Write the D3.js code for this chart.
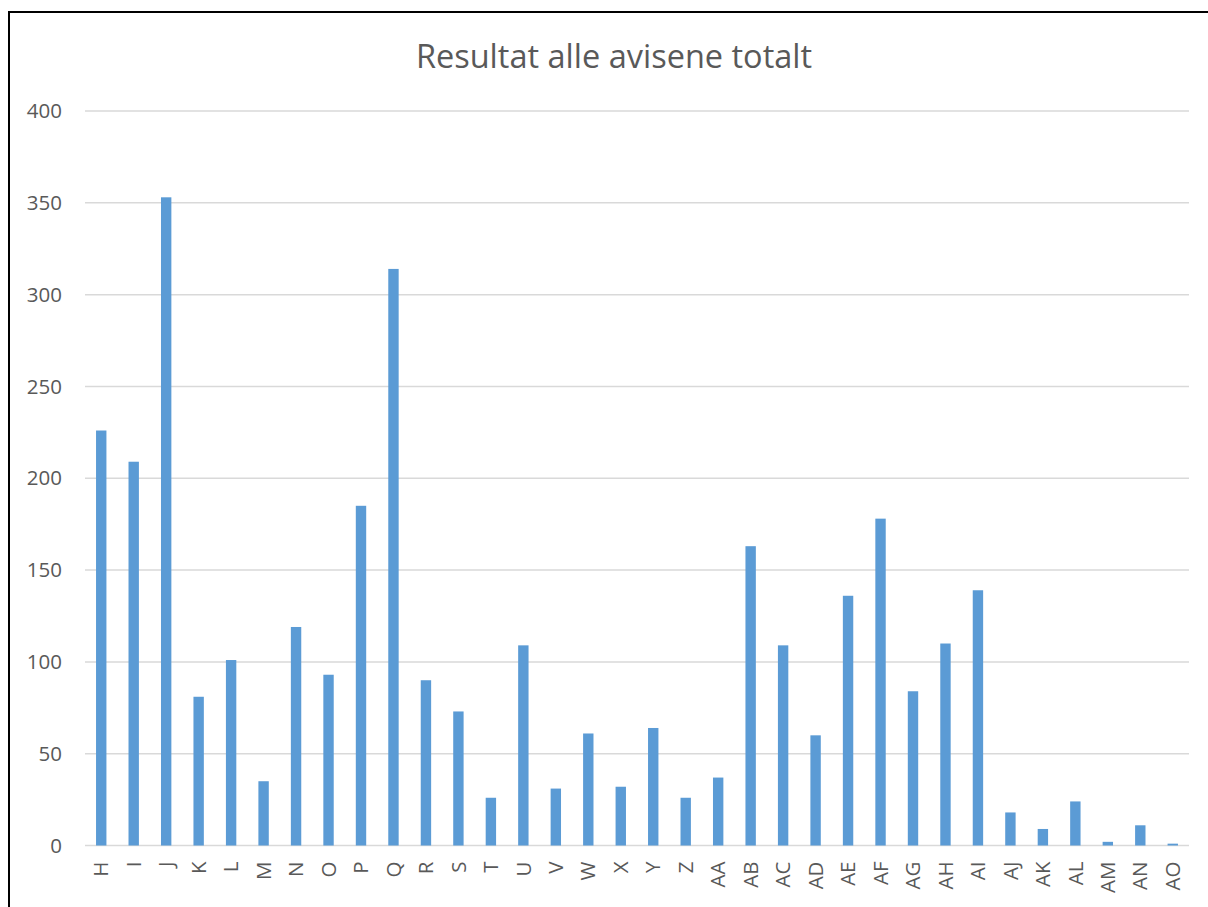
<!DOCTYPE html>
<html>
<head>
<meta charset="utf-8">
<script src="https://cdn.jsdelivr.net/npm/d3@7"></script>
<style>
  html, body { margin: 0; padding: 0; background: #fff; }
  svg { display: block; }
  text { font-family: "Open Sans", "Liberation Sans", sans-serif; fill: #595959; }
</style>
</head>
<body>
<svg id="chart" width="1208" height="907"></svg>
<script>
const categories = ["H","I","J","K","L","M","N","O","P","Q","R","S","T","U","V","W","X","Y","Z",
  "AA","AB","AC","AD","AE","AF","AG","AH","AI","AJ","AK","AL","AM","AN","AO"];
const values = [226,209,353,81,101,35,119,93,185,314,90,73,26,109,31,61,32,64,26,
  37,163,109,60,136,178,84,110,139,18,9,24,2,11,1];
const yTicks = [0,50,100,150,200,250,300,350,400];
const title = "Resultat alle avisene totalt";

const svg = d3.select("#chart");

// outer chart border
svg.append("rect")
  .attr("x", 9).attr("y", 12)
  .attr("width", 1230).attr("height", 930)
  .attr("fill", "none").attr("stroke", "#000").attr("stroke-width", 2);

const plot = { left: 85, right: 1189, top: 111, bottom: 845.5 };

const x = d3.scaleBand()
  .domain(categories)
  .range([plot.left, plot.right])
  .paddingInner(0.68)
  .paddingOuter(0.34);

const y = d3.scaleLinear()
  .domain([0, 400])
  .range([plot.bottom, plot.top]);

// gridlines
svg.append("g")
  .selectAll("line")
  .data(yTicks)
  .join("line")
  .attr("x1", plot.left).attr("x2", plot.right)
  .attr("y1", d => y(d)).attr("y2", d => y(d))
  .attr("stroke", "#d9d9d9").attr("stroke-width", 1.5);

// y axis labels
const yAxis = d3.axisLeft(y).tickValues(yTicks).tickSize(0).tickPadding(0);
const yg = svg.append("g").attr("transform", `translate(62,0)`).call(yAxis);
yg.select(".domain").remove();
yg.selectAll("text")
  .attr("font-size", 20.5)
  .attr("fill", "#595959")
  .style("font-family", '"Open Sans", "Liberation Sans", sans-serif');

// bars
svg.append("g")
  .selectAll("rect")
  .data(categories.map((c, i) => ({ c, v: values[i] })))
  .join("rect")
  .attr("x", d => x(d.c))
  .attr("width", x.bandwidth())
  .attr("y", d => y(d.v))
  .attr("height", d => y(0) - y(d.v))
  .attr("fill", "#5b9bd5");

// x axis labels
const xAxis = d3.axisBottom(x).tickSize(0).tickPadding(0);
const xg = svg.append("g").attr("transform", `translate(0,${plot.bottom})`).call(xAxis);
xg.select(".domain").remove();
xg.selectAll(".tick text")
  .attr("font-size", 20.5)
  .attr("fill", "#595959")
  .style("font-family", '"Open Sans", "Liberation Sans", sans-serif')
  .attr("text-anchor", "end")
  .attr("dy", "0.35em")
  .attr("x", -16)
  .attr("y", 0)
  .attr("transform", "rotate(-90)");

// title
svg.append("text")
  .attr("x", 614).attr("y", 68)
  .attr("text-anchor", "middle")
  .attr("font-size", 32.5)
  .attr("fill", "#595959")
  .text(title);
</script>
</body>
</html>
